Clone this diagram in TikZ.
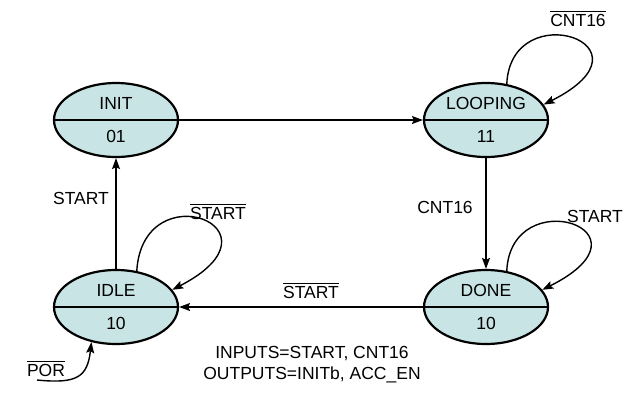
\documentclass[tikz,border=0pt]{standalone}
\usepackage{fontspec}
\setmainfont{Liberation Sans}
\usetikzlibrary{shapes.geometric,arrows.meta}

\definecolor{statefill}{RGB}{200,228,228}
\newcommand{\inv}[1]{$\overline{\mbox{#1}\rule{0pt}{14pt}}$}

\tikzset{
  every node/.style={font=\fontsize{17.5}{21}\selectfont},
  state/.style={ellipse, draw, line width=2.2pt, fill=statefill,
    minimum width=124pt, minimum height=74pt, inner sep=0pt},
  trans/.style={line width=1.4pt, -{Stealth[length=11pt,width=8pt,inset=2pt]}},
}

\begin{document}
\begin{tikzpicture}[x=1pt,y=-1pt]
        \useasboundingbox (0,0) rectangle (635,405);

        %% The four states
        \node [state] (init) at (116,120) {};
        \node [state] (looping) at (486,120) {};
        \node [state] (idle) at (116,307) {};
        \node [state] (done) at (486,307) {};

        %% Split lines and texts
        \foreach \s/\name/\code in {init/INIT/01, looping/LOOPING/11, idle/IDLE/10, done/DONE/10} {
          \draw [line width=1.8pt] (\s.west) -- (\s.east);
          \node (\s-name) at ([yshift=16.5pt]\s.center) {\name};
          \node (\s-code) at ([yshift=-16.5pt]\s.center) {\code};
        }

        %% Transitions
        \draw [trans] (init.east) -- (looping.west);
        \draw [trans] (looping.south) -- (done.north);
        \draw [trans] (done.west) -- (idle.east);
        \draw [trans] (idle.north) -- (init.south);

        %% Self loops
        \draw [trans] (looping.60) .. controls +(4,-90) and +(120,-60) .. (looping.15);
        \draw [trans] (idle.60) .. controls +(6,-100) and +(120,-62) .. (idle.17);
        \draw [trans] (done.60) .. controls +(4,-90) and +(120,-60) .. (done.17);

        %% Reset
        \coordinate (por) at (37,380);
        \draw [trans] (por) .. controls +(40,4) and +(-4,35) .. (idle.-125);

        %% Labels
        \node (l-cnt16n) at (578,19) {\inv{CNT16}};
        \node (l-start) at (81,198) {START};
        \node (l-startn-idle) at (218,212) {\inv{START}};
        \node (l-cnt16) at (445,207) {CNT16};
        \node (l-start-done) at (595,216) {START};
        \node (l-startn) at (311,291) {\inv{START}};
        \node (l-por) at (46,369) {\inv{POR}};
        \node [align=center] (io) at (312,365) {INPUTS=START, CNT16\\OUTPUTS=INITb, ACC\_EN};
\end{tikzpicture}
\end{document}
